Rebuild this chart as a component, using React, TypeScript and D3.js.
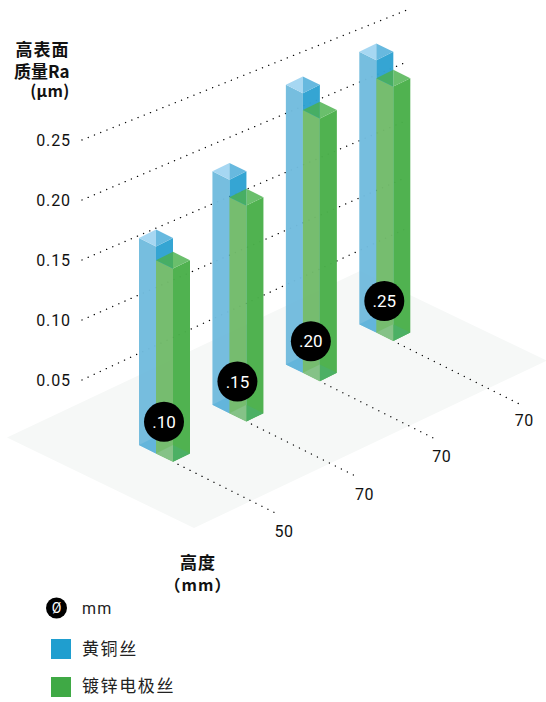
import React from "react";
import * as d3 from "d3";

const diameters = [".10", ".15", ".20", ".25"];
const heightLabels = ["50", "70", "70", "70"];
const legRuns = [105, 112, 116, 125];
const brass = [0.1725, 0.1945, 0.233, 0.227];
const zinc = [0.161, 0.18, 0.219, 0.212];
const raTicks = [0.05, 0.1, 0.15, 0.2, 0.25];
const raTickLabels = ["0.05", "0.10", "0.15", "0.20", "0.25"];
const raTickRise = [0.467, 0.44, 0.43, 0.425, 0.4];

const W = 546, H = 702;
const sans = "Roboto, 'Noto Sans CJK SC', sans-serif";
const cjk = "'Noto Sans CJK SC', Roboto, sans-serif";

// value -> screen height in px
const h = d3.scaleLinear().domain([0, 0.25]).range([0, 300]);
// axis tick position
const yTick = d3.scaleLinear().domain([0, 0.25]).range([440, 140]);
// bar index -> front corner of the green base
const fx = d3.scaleLinear().domain([0, 3]).range([173, 393.3]);
const fy = d3.scaleLinear().domain([0, 3]).range([461.8, 341]);

const line = d3.line();
const poly = (p: [number, number][]) => line(p) + "Z";
const HW = 17, HH = 8.4;

function Prism({ cx, cy, height, c }: any) {
  const top = cy - height;
  return (
    <g>
      <path d={poly([[cx - HW, cy - HH], [cx, cy], [cx, top], [cx - HW, top - HH]])} fill={c.left} />
      <path d={poly([[cx, cy], [cx + HW, cy - HH], [cx + HW, top - HH], [cx, top]])} fill={c.right} />
      <path d={poly([[cx - HW, cy - HH], [cx, cy - 2 * HH], [cx, cy]])} fill={c.baseL} />
      <path d={poly([[cx, cy - 2 * HH], [cx + HW, cy - HH], [cx, cy]])} fill={c.baseR} />
      <path d={poly([[cx - HW, top - HH], [cx, top - 2 * HH], [cx, top]])} fill={c.topL} />
      <path d={poly([[cx, top - 2 * HH], [cx + HW, top - HH], [cx, top]])} fill={c.topR} />
    </g>
  );
}

const blue = { left: "#72bcde", right: "#2fa3d2", baseL: "#5fb3db", baseR: "#5fb3db", topL: "#a4d6f2", topR: "#63b7de" };
const green = { left: "#72bb6b", right: "#4bb04b", baseL: "#82c184", baseR: "#47ae60", topL: "#42ac60", topR: "#66bd68" };

const dots = { stroke: "#000", strokeWidth: 1.35, strokeLinecap: "round" as const, strokeDasharray: "0.1 6.6", fill: "none" };

export default function App() {
  return (
    <svg width={W} height={H} style={{ position: "absolute", left: 0, top: 0 }}>
      <path d={poly([[7, 437.5], [194, 528], [546.7, 360.7], [360, 271]])} fill="#f6f8f7" />

      {raTicks.map((t, i) => {
        const x0 = 82, x1 = 406, y0 = yTick(t);
        return (
          <g key={t}>
            <path d={line([[x0, y0], [x1, y0 - (x1 - x0) * raTickRise[i]]])!} {...dots} />
            <text x={71} y={y0} dy="0.36em" textAnchor="end" fontFamily={sans} fontSize={16} letterSpacing={0.9} fill="#111">{raTickLabels[i]}</text>
          </g>
        );
      })}

      {diameters.map((d, i) => {
        const cx = fx(i), cy = fy(i);
        const x1 = cx + legRuns[i], y1 = cy + legRuns[i] * 0.5;
        return (
          <g key={i}>
            <path d={line([[cx + 5, cy + 2.5], [x1, y1]])!} {...dots} />
            <text x={x1 + 6} y={y1 + 17} dy="0.36em" textAnchor="middle" fontFamily={sans} fontSize={16} letterSpacing={0.5} fill="#111">{heightLabels[i]}</text>
          </g>
        );
      })}

      {diameters.map((d, i) => {
        const cx = fx(i), cy = fy(i);
        return (
          <g key={i} opacity={0.97}>
            <Prism cx={cx - HW} cy={cy - HH} height={h(brass[i])} c={blue} />
            <Prism cx={cx} cy={cy} height={h(zinc[i])} c={green} />
          </g>
        );
      })}

      {diameters.map((d, i) => {
        const cx = fx(i) - 9, cy = fy(i) - 40;
        return (
          <g key={d}>
            <circle cx={cx} cy={cy} r={20} fill="#000" />
            <text x={cx} y={cy} dy="0.36em" textAnchor="middle" fontFamily={sans} fontWeight={400} fontSize={17} fill="#fff">{d}</text>
          </g>
        );
      })}

      <g fontFamily={cjk} fontWeight={700} fontSize={17} fill="#111" textAnchor="end">
        <text x={69.5} y={56} letterSpacing={1}>高表面</text>
        <text x={69.5} y={78} letterSpacing={0}>质量Ra</text>
        <text x={69.5} y={97} letterSpacing={0.3} fontSize={16}>(μm)</text>
      </g>
      <g fontFamily={cjk} fontWeight={700} fontSize={17} fill="#111" textAnchor="middle">
        <text x={198} y={569} letterSpacing={1}>高度</text>
        <text x={198} y={591} letterSpacing={1} fontSize={16}>（mm）</text>
      </g>

      <circle cx={56.5} cy={608} r={10.5} fill="#000" />
      <text x={56.5} y={608} dy="0.36em" textAnchor="middle" fontFamily={sans} fontSize={14} fill="#fff">Ø</text>
      <text x={82} y={608} dy="0.36em" fontFamily={sans} fontSize={16} letterSpacing={1.2} fill="#222">mm</text>
      <rect x={51} y={639} width={20} height={20} fill="#1f9ecf" />
      <text x={82} y={649} dy="0.36em" fontFamily={cjk} fontSize={17} letterSpacing={1.6} fill="#222">黄铜丝</text>
      <rect x={51} y={677} width={20} height={20} fill="#3fa945" />
      <text x={82} y={686} dy="0.36em" fontFamily={cjk} fontSize={17} letterSpacing={1.6} fill="#222">镀锌电极丝</text>
    </svg>
  );
}
